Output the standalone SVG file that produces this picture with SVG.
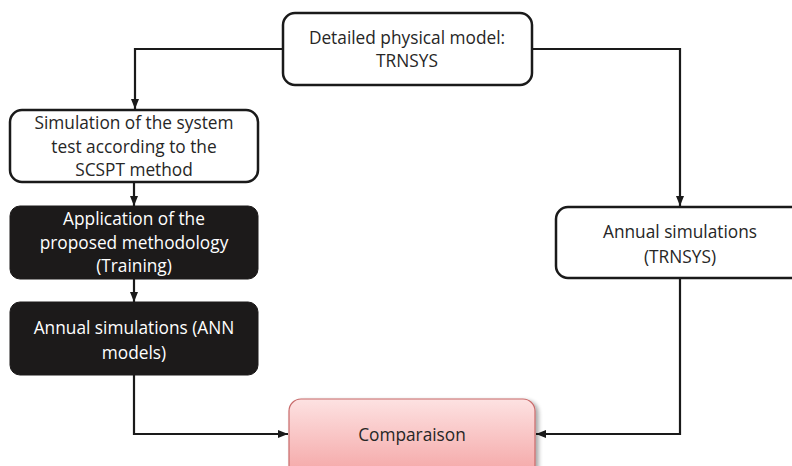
<svg xmlns="http://www.w3.org/2000/svg" width="792" height="466" viewBox="0 0 792 466">
<defs>
<marker id="ah" markerWidth="10" markerHeight="10" viewBox="0 0 10 10" refX="10" refY="5" orient="auto" markerUnits="userSpaceOnUse">
<path d="M0,1 L10,5 L0,9 Z" fill="#1a1a1a"/>
</marker>
<linearGradient id="pink" x1="0" y1="0" x2="0" y2="1">
<stop offset="0" stop-color="#fde2e2"/>
<stop offset="1" stop-color="#f4a3a3"/>
</linearGradient>
<filter id="sh" x="-10%" y="-10%" width="130%" height="130%">
<feGaussianBlur in="SourceAlpha" stdDeviation="2"/>
<feOffset dx="3" dy="2"/>
<feComponentTransfer><feFuncA type="linear" slope="0.35"/></feComponentTransfer>
<feMerge><feMergeNode/><feMergeNode in="SourceGraphic"/></feMerge>
</filter>
</defs>
<style>
.t{font-family:"Open Sans","Liberation Sans",sans-serif;font-size:17.3px;text-anchor:middle;fill:#262626}
.w{fill:#fff}
.wb{fill:#fff;stroke:#1a1a1a;stroke-width:2.5}
.bb{fill:#1c1a1a;stroke:#1c1a1a;stroke-width:1}
.c{fill:none;stroke:#1a1a1a;stroke-width:2.2}
</style>
<g id="connectors">
<path class="c" d="M283,49 H135 V109" marker-end="url(#ah)"/>
<path class="c" d="M532,49 H680 V206" marker-end="url(#ah)"/>
<path class="c" d="M134,182 V206" marker-end="url(#ah)"/>
<path class="c" d="M134,279 V302" marker-end="url(#ah)"/>
<path class="c" d="M134,375 V434 H288" marker-end="url(#ah)"/>
<path class="c" d="M680,278 V434 H536" marker-end="url(#ah)"/>
</g>
<g id="n_trnsys">
<rect class="wb" x="283" y="13" width="249" height="72" rx="12"/>
<text class="t" x="407" y="44">Detailed physical model:</text>
<text class="t" x="407" y="67">TRNSYS</text>
</g>
<g id="n_sim">
<rect class="wb" x="10" y="110" width="248" height="72" rx="12"/>
<text class="t" x="134" y="129">Simulation of the system</text>
<text class="t" x="134" y="153">test according to the</text>
<text class="t" x="134" y="176">SCSPT method</text>
</g>
<g id="n_app">
<rect class="bb" x="10" y="206" width="248" height="73" rx="10"/>
<text class="t w" x="134" y="225">Application of the</text>
<text class="t w" x="134" y="249">proposed methodology</text>
<text class="t w" x="134" y="272">(Training)</text>
</g>
<g id="n_ann">
<rect class="bb" x="10" y="302" width="248" height="73" rx="10"/>
<text class="t w" x="134" y="334">Annual simulations (ANN</text>
<text class="t w" x="134" y="359">models)</text>
</g>
<g id="n_annt">
<rect class="wb" x="556" y="207" width="250" height="71" rx="12"/>
<text class="t" x="680" y="238">Annual simulations</text>
<text class="t" x="680" y="263">(TRNSYS)</text>
</g>
<g id="n_comp">
<rect x="289" y="399" width="246" height="80" rx="12" fill="url(#pink)" stroke="#c86a6a" stroke-width="1.2" filter="url(#sh)"/>
<text class="t" x="412" y="441">Comparaison</text>
</g>
</svg>
